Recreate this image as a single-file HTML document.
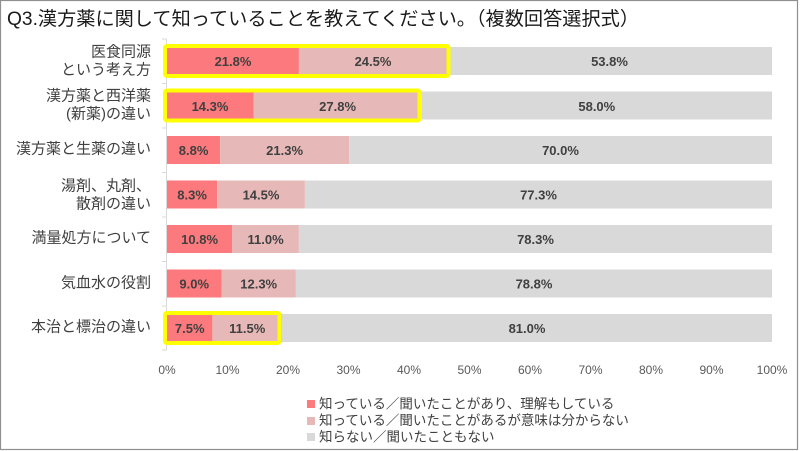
<!DOCTYPE html>
<html><head><meta charset="utf-8">
<style>
html,body{margin:0;padding:0;background:#fff;}
svg{display:block;}
text{font-family:"Liberation Sans","Noto Sans CJK JP",sans-serif;}
</style></head>
<body>
<svg width="800" height="451" viewBox="0 0 800 451" xmlns="http://www.w3.org/2000/svg">
<rect x="0" y="0" width="800" height="451" fill="#fff"/>
<rect x="0.5" y="0.5" width="797" height="449" fill="none" stroke="#8f8f8f" stroke-width="1.2"/>

<text x="7" y="25" font-size="19" fill="#1a1a1a" textLength="632" lengthAdjust="spacingAndGlyphs">Q3.漢方薬に関して知っていることを教えてください。（複数回答選択式）</text>

<!-- axis -->
<line x1="166.5" y1="39" x2="166.5" y2="350" stroke="#d9d9d9" stroke-width="1"/>
<g stroke="#d9d9d9" stroke-width="1">
<line x1="162" y1="39" x2="166.5" y2="39"/>
<line x1="162" y1="83.5" x2="166.5" y2="83.5"/>
<line x1="162" y1="128" x2="166.5" y2="128"/>
<line x1="162" y1="172.5" x2="166.5" y2="172.5"/>
<line x1="162" y1="217" x2="166.5" y2="217"/>
<line x1="162" y1="261.5" x2="166.5" y2="261.5"/>
<line x1="162" y1="306" x2="166.5" y2="306"/>
<line x1="162" y1="350" x2="166.5" y2="350"/>
</g>

<!-- bars: x0=167, 6.05px per % -->
<g>
<!-- 1 -->
<rect x="167" y="47" width="131.9" height="28" fill="#fc7a7d"/>
<rect x="298.9" y="47" width="148.2" height="28" fill="#e6b9b8"/>
<rect x="447.1" y="47" width="324.9" height="28" fill="#d9d9d9"/>
<!-- 2 -->
<rect x="167" y="91.5" width="86.5" height="28" fill="#fc7a7d"/>
<rect x="253.5" y="91.5" width="168.2" height="28" fill="#e6b9b8"/>
<rect x="421.7" y="91.5" width="350.3" height="28" fill="#d9d9d9"/>
<!-- 3 -->
<rect x="167" y="136" width="53.2" height="28" fill="#fc7a7d"/>
<rect x="220.2" y="136" width="128.9" height="28" fill="#e6b9b8"/>
<rect x="349.1" y="136" width="422.9" height="28" fill="#d9d9d9"/>
<!-- 4 -->
<rect x="167" y="180.5" width="50.2" height="28" fill="#fc7a7d"/>
<rect x="217.2" y="180.5" width="87.7" height="28" fill="#e6b9b8"/>
<rect x="304.9" y="180.5" width="467.1" height="28" fill="#d9d9d9"/>
<!-- 5 -->
<rect x="167" y="225" width="65.3" height="28" fill="#fc7a7d"/>
<rect x="232.3" y="225" width="66.6" height="28" fill="#e6b9b8"/>
<rect x="298.9" y="225" width="473.1" height="28" fill="#d9d9d9"/>
<!-- 6 -->
<rect x="167" y="269.5" width="54.5" height="28" fill="#fc7a7d"/>
<rect x="221.5" y="269.5" width="74.4" height="28" fill="#e6b9b8"/>
<rect x="295.9" y="269.5" width="476.1" height="28" fill="#d9d9d9"/>
<!-- 7 -->
<rect x="167" y="314" width="45.4" height="28" fill="#fc7a7d"/>
<rect x="212.4" y="314" width="69.6" height="28" fill="#e6b9b8"/>
<rect x="282" y="314" width="490" height="28" fill="#d9d9d9"/>
</g>

<!-- yellow highlight boxes -->
<g fill="none" stroke="#ffff00" stroke-width="4">
<rect x="165" y="46" width="283.5" height="30" rx="2"/>
<rect x="165" y="90.5" width="254.5" height="30" rx="2"/>
<rect x="165" y="313" width="114.5" height="30" rx="2"/>
</g>

<!-- data labels -->
<g font-size="13" font-weight="bold" fill="#404040" text-anchor="middle" dominant-baseline="central">
<text x="233" y="61.5">21.8%</text>
<text x="373" y="61.5">24.5%</text>
<text x="609.5" y="61.5">53.8%</text>

<text x="210" y="106.5">14.3%</text>
<text x="337.6" y="106.5">27.8%</text>
<text x="596.8" y="106.5">58.0%</text>

<text x="193.6" y="150.5">8.8%</text>
<text x="284.6" y="150.5">21.3%</text>
<text x="560.5" y="150.5">70.0%</text>

<text x="192.1" y="195">8.3%</text>
<text x="261" y="195">14.5%</text>
<text x="538.5" y="195">77.3%</text>

<text x="199.6" y="239.5">10.8%</text>
<text x="265.6" y="239.5">11.0%</text>
<text x="535.5" y="239.5">78.3%</text>

<text x="194.2" y="284">9.0%</text>
<text x="258.7" y="284">12.3%</text>
<text x="534" y="284">78.8%</text>

<text x="189.7" y="328.5">7.5%</text>
<text x="247.2" y="328.5">11.5%</text>
<text x="527" y="328.5">81.0%</text>
</g>

<!-- category labels -->
<g font-size="15" fill="#404040" text-anchor="end" dominant-baseline="central">
<text x="151" y="52">医食同源</text>
<text x="151" y="70">という考え方</text>
<text x="151" y="96">漢方薬と西洋薬</text>
<text x="151" y="114">(新薬)の違い</text>
<text x="151" y="149">漢方薬と生薬の違い</text>
<text x="151" y="186">湯剤、丸剤、</text>
<text x="151" y="204">散剤の違い</text>
<text x="151" y="238">満量処方について</text>
<text x="151" y="283">気血水の役割</text>
<text x="151" y="327">本治と標治の違い</text>
</g>

<!-- x tick labels -->
<g font-size="12" fill="#595959" text-anchor="middle" dominant-baseline="central">
<text x="167" y="370">0%</text>
<text x="227.5" y="370">10%</text>
<text x="288" y="370">20%</text>
<text x="348.5" y="370">30%</text>
<text x="409" y="370">40%</text>
<text x="469.5" y="370">50%</text>
<text x="530" y="370">60%</text>
<text x="590.5" y="370">70%</text>
<text x="651" y="370">80%</text>
<text x="711.5" y="370">90%</text>
<text x="772" y="370">100%</text>
</g>

<!-- legend -->
<rect x="307" y="400" width="8" height="8" fill="#fc7a7d"/>
<rect x="307" y="417" width="8" height="8" fill="#e6b9b8"/>
<rect x="307" y="433" width="8" height="8" fill="#d9d9d9"/>
<g font-size="13.5" fill="#404040" dominant-baseline="central">
<text x="319" y="404">知っている／聞いたことがあり、理解もしている</text>
<text x="319" y="420.5">知っている／聞いたことがあるが意味は分からない</text>
<text x="319" y="437">知らない／聞いたこともない</text>
</g>
</svg>
</body></html>
